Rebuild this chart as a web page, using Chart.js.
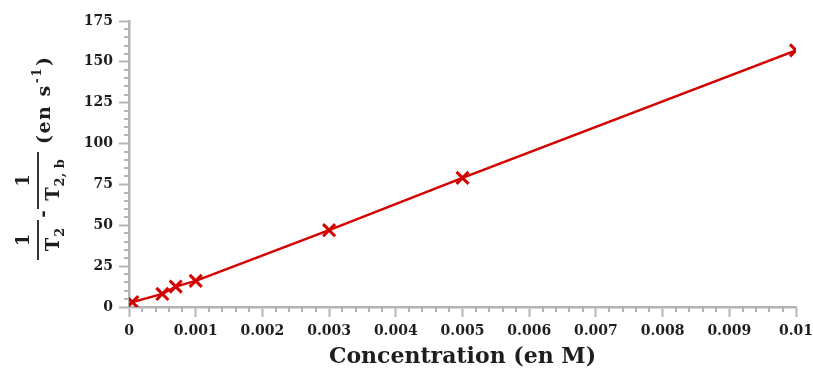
<!DOCTYPE html>
<html><head><meta charset="utf-8">
<script src="https://cdn.jsdelivr.net/npm/chart.js@4.4.1/dist/chart.umd.min.js"></script>
<style>html,body{margin:0;padding:0;background:#fff}#wrap{width:813px;height:374px}</style>
</head><body><div id="wrap"><canvas id="c" width="813" height="374"></canvas></div>
<script>
// ---- data ----
const concentrations = [0.00005, 0.0005, 0.0007, 0.001, 0.003, 0.005, 0.01];
const relaxationRates = [3, 8, 12.5, 16, 47, 79, 157];
const xTickValues = [0, 0.001, 0.002, 0.003, 0.004, 0.005, 0.006, 0.007, 0.008, 0.009, 0.01];
const yTickValues = [0, 25, 50, 75, 100, 125, 150, 175];
const xMinorPerMajor = 5;
const yMinorPerMajor = 5;
const xAxisTitle = 'Concentration (en M)';
const yTitleFrac1 = ['1', 'T', '2'];
const yTitleFrac2 = ['1', 'T', '2, b'];
const yTitleMinus = '-';
const yTitleUnit = ['(en s', '-1', ')'];

const RED = '#d40000';
const AXIS = '#b4b4b4';
const TEXT = '#1e1e1e';
const FAM = '"DejaVu Serif", "Liberation Serif", serif';

const minorTicks = {
  id: 'minorTicks',
  afterDraw(chart) {
    const ctx = chart.ctx, xs = chart.scales.x, ys = chart.scales.y, a = chart.chartArea;
    ctx.save();
    ctx.strokeStyle = AXIS; ctx.lineWidth = 2;
    for (let i = 0; i < xTickValues.length - 1; i++) {
      const v0 = xTickValues[i], v1 = xTickValues[i + 1];
      for (let k = 1; k < xMinorPerMajor; k++) {
        const px = Math.round(xs.getPixelForValue(v0 + (v1 - v0) * k / xMinorPerMajor));
        ctx.beginPath(); ctx.moveTo(px, a.bottom); ctx.lineTo(px, a.bottom + 5); ctx.stroke();
      }
    }
    for (let i = 0; i < yTickValues.length - 1; i++) {
      const v0 = yTickValues[i], v1 = yTickValues[i + 1];
      for (let k = 1; k < yMinorPerMajor; k++) {
        const py = Math.round(ys.getPixelForValue(v0 + (v1 - v0) * k / yMinorPerMajor));
        ctx.beginPath(); ctx.moveTo(a.left - 5, py); ctx.lineTo(a.left, py); ctx.stroke();
      }
    }
    ctx.restore();
  }
};

const yTitle = {
  id: 'yTitle',
  afterDraw(chart) {
    const ctx = chart.ctx;
    const big = 'bold 18px ' + FAM, small = 'bold 13px ' + FAM, tiny = 'bold 12px ' + FAM, unit = 'bold 19px ' + FAM;
    ctx.save();
    ctx.translate(38, 157);
    ctx.rotate(-Math.PI / 2);
    ctx.fillStyle = TEXT; ctx.strokeStyle = TEXT;
    ctx.textBaseline = 'alphabetic';
    function frac(x0, x1, parts) {
      const cx = (x0 + x1) / 2;
      ctx.font = big; ctx.textAlign = 'center';
      ctx.fillText(parts[0], cx, -9);
      ctx.textAlign = 'left';
      const wT = ctx.measureText(parts[1]).width;
      ctx.font = small;
      const wS = ctx.measureText(parts[2]).width;
      const start = cx - (wT + wS) / 2;
      ctx.font = big; ctx.fillText(parts[1], start, 21);
      ctx.font = small; ctx.fillText(parts[2], start + wT + 1, 26);
      ctx.lineWidth = 1.8;
      ctx.beginPath(); ctx.moveTo(x0, 0); ctx.lineTo(x1, 0); ctx.stroke();
    }
    frac(-103, -63, yTitleFrac1);
    ctx.font = big; ctx.textAlign = 'center';
    ctx.fillText(yTitleMinus, -57, 11);
    frac(-52, 5, yTitleFrac2);
    ctx.textAlign = 'left';
    ctx.letterSpacing = '1.5px';
    let x = 13;
    ctx.font = unit; ctx.fillText(yTitleUnit[0], x, 12); x += ctx.measureText(yTitleUnit[0]).width;
    ctx.font = tiny; ctx.fillText(yTitleUnit[1], x + 1, 3); x += ctx.measureText(yTitleUnit[1]).width + 2;
    ctx.font = unit; ctx.fillText(yTitleUnit[2], x, 12);
    ctx.restore();
  }
};

const fmt = v => String(parseFloat(Number(v).toFixed(6)));

new Chart(document.getElementById('c'), {
  type: 'line',
  data: {
    datasets: [{
      data: concentrations.map((c, i) => ({ x: c, y: relaxationRates[i] })),
      borderColor: RED, borderWidth: 2.5, tension: 0, fill: false,
      pointStyle: 'crossRot', pointRadius: 8.5, pointBorderWidth: 3,
      pointBorderColor: RED, pointBackgroundColor: RED, clip: 0
    }]
  },
  options: {
    responsive: false, animation: false, devicePixelRatio: 1,
    layout: { padding: { top: 21, right: 17, left: 0, bottom: 0 } },
    plugins: { legend: { display: false }, tooltip: { enabled: false } },
    scales: {
      x: {
        type: 'linear', min: 0, max: 0.01,
        afterBuildTicks: s => { s.ticks = xTickValues.map(v => ({ value: v })); },
        afterFit: s => { s.height = 67; s.paddingRight = 0; s.paddingLeft = 0; },
        grid: { drawOnChartArea: false, drawTicks: true, tickLength: 10, tickColor: AXIS, tickWidth: 2 },
        border: { display: true, color: AXIS, width: 2.5 },
        ticks: { callback: v => fmt(v), color: TEXT, font: { family: FAM, weight: 'bold', size: 14 }, padding: 6, maxRotation: 0, autoSkip: false },
        title: { display: true, text: xAxisTitle, color: TEXT, font: { family: FAM, weight: 'bold', size: 22 }, padding: { top: 0, bottom: 4 } }
      },
      y: {
        type: 'linear', min: 0, max: 175,
        afterBuildTicks: s => { s.ticks = yTickValues.map(v => ({ value: v })); },
        afterFit: s => { s.width = 129; },
        grid: { drawOnChartArea: false, drawTicks: true, tickLength: 10, tickColor: AXIS, tickWidth: 2 },
        border: { display: true, color: AXIS, width: 2.5 },
        ticks: { callback: v => fmt(v), color: TEXT, font: { family: FAM, weight: 'bold', size: 14 }, padding: 6, autoSkip: false }
      }
    }
  },
  plugins: [minorTicks, yTitle]
});
</script>
</body></html>
